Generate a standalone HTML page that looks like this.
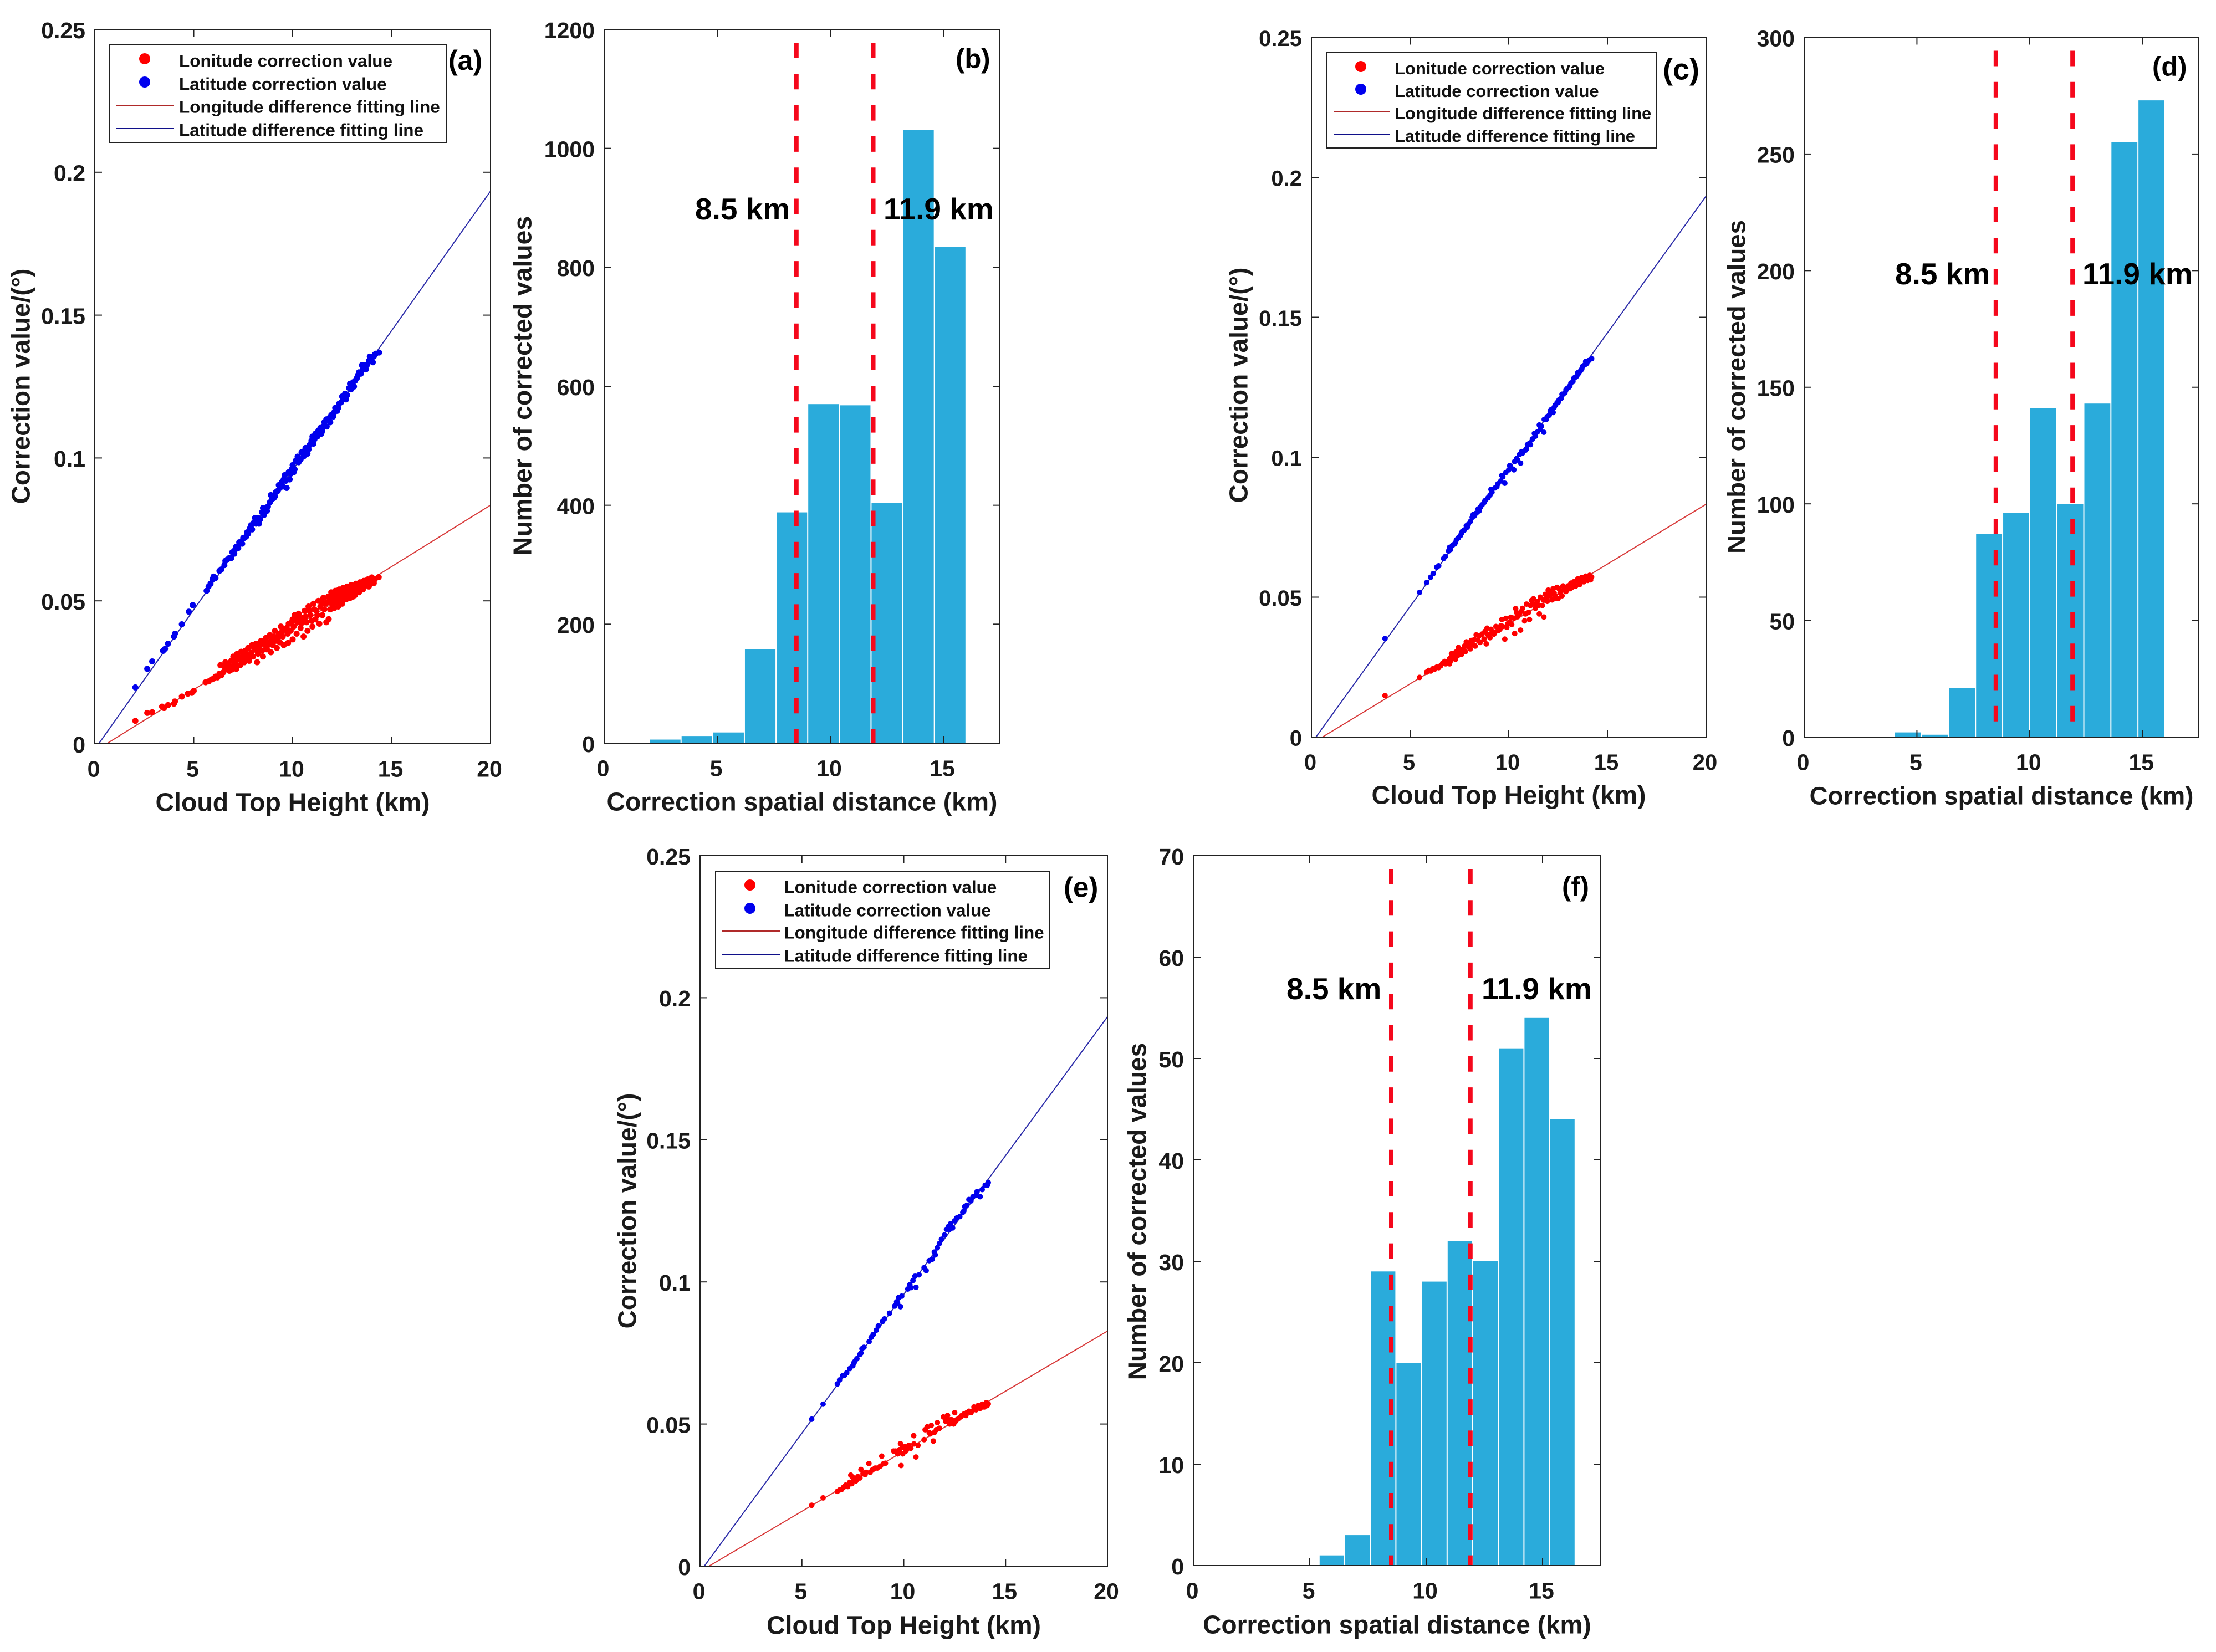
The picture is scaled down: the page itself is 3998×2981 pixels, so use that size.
<!DOCTYPE html>
<html lang="en">
<head>
<meta charset="utf-8">
<title>Cloud top height correction charts</title>
<style>
html,body{margin:0;padding:0;background:#fff;}
svg{display:block;font-family:"Liberation Sans",Arial,sans-serif;font-weight:bold;}
</style>
</head>
<body>
<svg id="figure" xmlns="http://www.w3.org/2000/svg" width="3998" height="2981" viewBox="0 0 3998 2981"></svg>
<script>
/* ---------- axis tick labels ---------- */
const scatterXTicks = [0, 5, 10, 15, 20];
const scatterYTicks = [0, 0.05, 0.1, 0.15, 0.2, 0.25];
const histXTicks = [0, 5, 10, 15];
const histBYTicks = [0, 200, 400, 600, 800, 1000, 1200];
const histDYTicks = [0, 50, 100, 150, 200, 250, 300];
const histFYTicks = [0, 10, 20, 30, 40, 50, 60, 70];
const thresholds = [8.5, 11.9];
const legendLabels = ["Lonitude correction value", "Latitude correction value", "Longitude difference fitting line", "Latitude difference fitting line"];

/* ---------- histogram data ---------- */
const bEdges = [2, 3.4, 4.8, 6.2, 7.6, 9, 10.4, 11.8, 13.2, 14.6, 16];
const bCounts = [6, 12, 18, 158, 388, 570, 568, 404, 1031, 834];
const dEdges = [4, 5.2, 6.4, 7.6, 8.8, 10, 11.2, 12.4, 13.6, 14.8, 16];
const dCounts = [2, 1, 21, 87, 96, 141, 100, 143, 255, 273];
const fEdges = [5.4, 6.5, 7.6, 8.7, 9.8, 10.9, 12, 13.1, 14.2, 15.3, 16.4];
const fCounts = [1, 3, 29, 20, 28, 32, 30, 51, 54, 44];

/* ---------- fitting lines [x, value] ---------- */
const aLonFit = [[0.6, 0], [20, 0.0835]];
const aLatFit = [[0.2, 0], [20, 0.1934]];
const cLonFit = [[0.56, 0], [20, 0.0832]];
const cLatFit = [[0.23, 0], [20, 0.1933]];
const eLonFit = [[0.44, 0], [20, 0.0827]];
const eLatFit = [[0.21, 0], [20, 0.1933]];

/* ---------- scatter (a) ---------- */
const aLon = [[2.05,.0080],[2.65,.0108],[2.9,.0110],[3.4,.0130],[3.5,.0125],[3.7,.0135],[4.0,.0140],[4.05,.0148],[4.4,.0165],[4.7,.0175],[4.9,.0178],[5.0,.0185],[5.6,.0215],[5.75,.0218],[5.9,.0225],
[6.0,.0228],[6.1,.0235],[6.2,.0232],[6.3,.0245],[6.35,.0275],[6.5,.0250],[6.6,.0285],[6.7,.0262],[6.8,.0255],[6.9,.0290],[7.0,.0270],[7.0,.0305],[7.1,.0282],[7.15,.0262],[7.2,.0315],[7.3,.0295],[7.35,.0275],[7.4,.0322],[7.5,.0305],[7.55,.0285],[7.6,.0325],[7.7,.0300],[7.75,.0335],[7.8,.0290],[7.9,.0318],[7.95,.0345],[8.0,.0305],[8.1,.0330],[8.15,.0350],[8.2,.0285],[8.25,.0315],[8.3,.0340],[8.4,.0360],[8.45,.0325],[8.5,.0305],[8.6,.0345],[8.65,.0370],[8.7,.0330],[8.8,.0355],[8.85,.0380],[8.9,.0320],[9.0,.0345],[9.05,.0375],[9.1,.0395],[9.15,.0360],[9.2,.0335],[9.3,.0385],[9.35,.0355],[9.4,.0410],[9.5,.0375],[9.55,.0345],[9.6,.0400],[9.75,.0385],[9.77,.0353],[9.8,.0420],[9.9,.0395],[10,.0365],[10,.0435],[10.05,.0410],[10.1,.0450],[10.2,.0385],[10.25,.0425],[10.3,.0455],[10.4,.0405],[10.5,.0440],[10.55,.0375],[10.6,.0465],[10.7,.0425],[10.75,.0395],[10.8,.0480],[10.9,.0450],[11.0,.0410],[11.05,.0490],[11.15,.0435],[11.2,.0465],[11.3,.0500],[11.35,.0420],[11.4,.0480],[11.5,.0450],[11.55,.0510],[11.6,.0470],[11.7,.0425],[11.75,.0495],[11.8,.0515],[11.82,.0436],
[11.9,.0470],[11.95,.0530],[12.0,.0490],[12.05,.0510],[12.1,.0475],[12.15,.0535],[12.2,.0495],[12.25,.0515],[12.3,.0480],[12.35,.0540],[12.4,.0500],[12.45,.0525],[12.5,.0490],[12.55,.0545],[12.6,.0510],[12.65,.0530],[12.7,.0505],[12.75,.0550],[12.8,.0520],[12.85,.0535],[12.9,.0510],[12.95,.0555],[13.0,.0530],[13.1,.0545],[13.15,.0520],[13.2,.0560],[13.3,.0540],[13.35,.0530],[13.4,.0565],[13.5,.0550],[13.55,.0540],[13.6,.0570],[13.7,.0555],[13.8,.0575],[13.85,.0550],[13.95,.0575],[14.05,.0570],[14.15,.0575],[14.35,.0583],
[8.55,.0358],[8.95,.0362],[9.25,.0368],[9.45,.0390],[9.7,.0405],[9.95,.0425],[10.15,.0432],[10.35,.0440],[10.45,.0422],[10.65,.0445],[10.85,.0465],[10.95,.0430],[11.1,.0470],[11.25,.0450],[11.45,.0495],[11.65,.0490],[11.85,.0500],[11.92,.0505],[12.0,.0520],[12.02,.0475],[12.12,.0500],[12.2,.0525],[12.28,.0505],[12.32,.0490],[12.42,.0535],[12.48,.0510],[12.52,.0500],[12.6,.0535],[12.68,.0515],[12.72,.0540],[12.78,.0510],[12.88,.0545],[12.92,.0525],[13.02,.0548],[13.05,.0515],[13.12,.0532],[13.22,.0530],[13.28,.0552],[13.4,.0545],[13.48,.0562],[13.62,.0552],[13.72,.0568],[13.9,.0560],[14.0,.0582],[14.1,.0562],[7.05,.0292],[7.25,.0305],[7.45,.0290],[7.65,.0312],[7.85,.0305],[8.05,.0335],[8.2,.0325],[8.35,.0350],[8.75,.0345],[6.4,.0240],[6.55,.0270],[6.75,.0278],[6.95,.0260]];
const aLat = [[2.05,.0197],[2.65,.0262],[2.9,.0288],[3.45,.0325],[3.55,.0332],[3.7,.0350],[4.0,.0375],[4.05,.0385],[4.4,.0418],[4.75,.0462],[4.95,.0485],[5.65,.0535],[5.75,.0550],[5.85,.0560],[5.95,.0575],[6.0,.0585],[6.1,.0580],[6.3,.0605],[6.4,.0610],[6.55,.0625],[6.7,.0645],[6.8,.0650],[6.95,.0670],[7.05,.0665],[7.15,.0690],[7.25,.0685],[7.35,.0705],[7.45,.0700],[7.55,.0720],[7.65,.0725],[7.75,.0735],[7.85,.0755],[7.95,.0750],[8.05,.0775],[8.15,.0770],[8.25,.0790],[8.35,.0785],[8.45,.0810],[8.55,.0800],[8.65,.0825],[8.75,.0830],[8.85,.0845],[8.95,.0855],[9.05,.0860],[9.15,.0880],[9.25,.0885],[9.35,.0895],[9.45,.0915],[9.55,.0925],[9.65,.0920],[9.7,.0895],[9.8,.0950],[9.9,.0945],[10.0,.0975],[10.05,.0950],[10.15,.0990],[10.3,.0985],[10.45,.1020],[10.55,.1005],[10.65,.1035],[10.75,.1015],[10.85,.1045],[10.95,.1060],[11.05,.1050],[11.15,.1085],[11.25,.1075],[11.4,.1105],[11.5,.1095],[11.6,.1125],[11.72,.1110],[11.85,.1140],[11.95,.1150],[12.05,.1145],[12.15,.1175],[12.25,.1165],[12.35,.1190],[12.45,.1195],[12.55,.1205],[12.65,.1225],[12.75,.1220],[12.85,.1245],[12.95,.1240],[13.05,.1265],[13.15,.1270],[13.25,.1280],[13.35,.1300],[13.45,.1295],[13.55,.1310],[13.65,.1325],[13.75,.1325],[13.85,.1340],[13.95,.1345],[14.1,.1355],[14.15,.1362],[14.37,.1369],
[6.6,.0640],[6.9,.0650],[7.1,.0680],[7.3,.0705],[7.5,.0720],[7.7,.0740],[7.9,.0765],[8.1,.0790],[8.3,.0770],[8.5,.0825],[8.7,.0815],[8.9,.0870],[9.1,.0865],[9.3,.0905],[9.5,.0900],[9.6,.0940],[9.85,.0925],[9.95,.0960],[10.1,.0960],[10.25,.1005],[10.4,.0995],[10.6,.1025],[10.8,.1030],[11.0,.1075],[11.1,.1065],[11.3,.1095],[11.45,.1085],[11.55,.1110],[11.7,.1135],[11.9,.1125],[12.1,.1160],[12.3,.1175],[12.5,.1215],[12.7,.1205],[12.9,.1260],[13.1,.1250],[13.3,.1290],[13.5,.1325],[13.7,.1310],[13.9,.1355],[14.05,.1335],[14.2,.1365]];

/* ---------- scatter (c) ---------- */
const cLon = [[3.73,.0148],[5.48,.0213],[5.84,.0232],[5.95,.0238],[6.05,.0236],[6.15,.0244],[6.25,.0243],[6.35,.0250],[6.45,.0248],[6.65,.0264],[6.8,.0262],[6.9,.0268],[7.0,.0280],[7.05,.0272],[7.1,.0298],[7.2,.0285],[7.3,.0278],[7.35,.0305],[7.4,.0290],[7.45,.0320],[7.55,.0300],[7.6,.0295],[7.7,.0312],[7.8,.0305],[7.85,.0340],[7.95,.0322],[8.05,.0315],[8.1,.0345],[8.2,.0330],[8.3,.0325],[8.35,.0365],[8.45,.0345],[8.55,.0338],[8.65,.0368],[8.75,.0350],[8.86,.0333],[8.9,.0389],[8.95,.0365],[9.05,.0355],[9.15,.0372],[9.25,.0368],[9.35,.0395],[9.45,.0380],[9.55,.0385],[9.65,.0420],[9.7,.0395],[9.8,.0350],[9.85,.0424],[9.95,.0405],[10.05,.0410],[10.15,.0402],[10.25,.0425],[10.3,.0370],[10.35,.0459],[10.45,.0430],[10.55,.0440],[10.6,.0382],[10.7,.0460],[10.8,.0415],[10.9,.0475],[11.0,.0445],[11.05,.0420],[11.15,.0488],[11.25,.0494],[11.35,.0460],[11.45,.0485],[11.55,.0440],[11.6,.0500],[11.7,.0470],[11.78,.0429],[11.85,.0510],[11.95,.0485],[12.05,.0505],[12.1,.0520],[12.2,.0490],[12.25,.0530],[12.35,.0505],[12.45,.0535],[12.5,.0495],[12.6,.0515],[12.7,.0505],[12.8,.0525],[12.9,.0520],[13.0,.0540],[13.1,.0530],[13.2,.0535],[13.3,.0555],[13.4,.0540],[13.5,.0565],[13.6,.0545],[13.7,.0570],[13.8,.0555],[13.9,.0575],[14.0,.0560],[14.1,.0578],[14.2,.0572],
[6.55,.0255],[6.75,.0270],[7.0,.0262],[7.25,.0300],[7.5,.0315],[7.75,.0325],[8.0,.0332],[8.25,.0348],[8.5,.0362],[8.8,.0378],[9.1,.0385],[9.3,.0375],[9.6,.0398],[9.9,.0392],[10.1,.0428],[10.4,.0445],[10.65,.0450],[10.85,.0440],[11.1,.0470],[11.3,.0475],[11.5,.0470],[11.75,.0490],[11.9,.0500],[12.0,.0525],[12.15,.0510],[12.3,.0515],[12.4,.0495],[12.55,.0530],[12.75,.0540],[12.95,.0530],[13.15,.0550],[13.35,.0540],[13.55,.0555],[13.75,.0560],[13.95,.0570],[14.15,.0562]];
const cLat = [[3.73,.0352],[5.48,.0517],[5.84,.0552],[6.04,.0571],[6.17,.0584],[6.35,.0607],[6.45,.0612],[6.7,.0638],[6.78,.0645],[6.95,.0665],[7.05,.0670],[7.15,.0685],[7.25,.0690],[7.35,.0705],[7.45,.0712],[7.55,.0720],[7.65,.0735],[7.75,.0740],[7.85,.0755],[7.95,.0760],[8.05,.0770],[8.15,.0785],[8.25,.0790],[8.35,.0800],[8.45,.0815],[8.55,.0820],[8.65,.0830],[8.8,.0845],[8.95,.0855],[9.05,.0865],[9.15,.0875],[9.3,.0890],[9.45,.0905],[9.6,.0915],[9.7,.0930],[9.8,.0907],[9.85,.0945],[10.0,.0955],[10.1,.0965],[10.26,.0955],[10.3,.0985],[10.45,.0990],[10.55,.1010],[10.6,.0979],[10.7,.1015],[10.85,.1025],[10.95,.1045],[11.05,.1050],[11.2,.1065],[11.3,.1085],[11.45,.1090],[11.55,.1115],[11.65,.1110],[11.78,.1089],[11.8,.1135],[11.95,.1145],[12.05,.1150],[12.15,.1170],[12.25,.1160],[12.35,.1185],[12.45,.1195],[12.55,.1205],[12.65,.1210],[12.75,.1225],[12.85,.1230],[12.95,.1245],[13.05,.1250],[13.15,.1265],[13.25,.1270],[13.35,.1285],[13.45,.1290],[13.55,.1300],[13.65,.1310],[13.75,.1325],[13.85,.1330],[13.95,.1335],[14.05,.1345],[14.2,.1352],
[7.0,.0678],[7.3,.0695],[7.6,.0728],[7.9,.0750],[8.2,.0795],[8.5,.0808],[8.75,.0838],[9.1,.0885],[9.4,.0895],[9.65,.0935],[10.05,.0970],[10.4,.0995],[10.65,.1020],[10.9,.1030],[11.1,.1045],[11.35,.1075],[11.6,.1100],[11.9,.1135],[12.1,.1165],[12.3,.1178],[12.5,.1195],[12.7,.1225],[12.9,.1240],[13.1,.1255],[13.3,.1282],[13.5,.1302],[13.7,.1315],[13.9,.1342]];

/* ---------- scatter (e) ---------- */
const eLon = [[5.48,.0214],[6.04,.0240],[6.74,.0263],[6.85,.0268],[6.95,.0270],[7.05,.0278],[7.15,.0285],[7.25,.0280],[7.35,.0295],[7.4,.0320],[7.45,.0290],[7.55,.0305],[7.65,.0300],[7.75,.0315],[7.85,.0310],[7.9,.0340],[8.0,.0325],[8.15,.0330],[8.29,.0361],[8.35,.0330],[8.45,.0338],[8.55,.0342],[8.7,.0345],[8.85,.0352],[8.92,.0387],[9.0,.0360],[9.1,.0362],[9.5,.0405],[9.6,.0405],[9.7,.0395],[9.8,.0410],[9.84,.0431],[9.87,.0354],[9.95,.0395],[10.05,.0420],[10.15,.0410],[10.25,.0425],[10.35,.0415],[10.49,.0459],[10.5,.0430],[10.6,.0384],[10.7,.0425],[11.0,.0445],[11.05,.0480],[11.15,.0490],[11.25,.0470],[11.35,.0495],[11.45,.0440],[11.5,.0470],[11.65,.0505],[11.75,.0485],[11.95,.0525],[12.05,.0510],[12.15,.0530],[12.25,.0500],[12.35,.0515],[12.45,.0500],[12.5,.0540],[12.6,.0515],[12.7,.0520],[12.85,.0530],[12.95,.0535],[13.05,.0530],[13.2,.0545],[13.3,.0540],[13.45,.0560],[13.55,.0550],[13.65,.0565],[13.75,.0555],[13.85,.0570],[13.95,.0560],[14.05,.0575],[14.15,.0571],
[7.5,.0312],[7.7,.0305],[8.1,.0322],[8.6,.0345],[9.75,.0402],[9.95,.0418],[10.1,.0405],[11.3,.0465],[11.6,.0480],[12.1,.0520],[12.3,.0515],[12.55,.0510],[12.8,.0525],[13.1,.0540],[13.35,.0545],[13.6,.0555],[13.8,.0562],[14.1,.0565]];
const eLat = [[5.48,.0517],[6.04,.0570],[6.74,.0641],[6.85,.0655],[7.0,.0670],[7.2,.0680],[7.35,.0695],[7.5,.0705],[7.6,.0720],[7.7,.0730],[7.85,.0745],[7.95,.0765],[8.05,.0770],[8.3,.0790],[8.4,.0805],[8.5,.0815],[8.65,.0830],[8.75,.0845],[8.95,.0860],[9.05,.0870],[9.3,.0890],[9.55,.0915],[9.65,.0930],[9.75,.0945],[9.84,.0913],[9.9,.0950],[10.2,.0975],[10.35,.0980],[10.45,.1005],[10.55,.1020],[10.6,.0981],[10.75,.1025],[11.0,.1050],[11.1,.1040],[11.25,.1075],[11.4,.1080],[11.5,.1105],[11.65,.1120],[11.75,.1135],[11.85,.1150],[12.0,.1165],[12.1,.1185],[12.2,.1195],[12.3,.1205],[12.4,.1190],[12.5,.1215],[12.6,.1225],[12.75,.1230],[12.9,.1245],[13.0,.1265],[13.1,.1270],[13.2,.1290],[13.3,.1285],[13.4,.1300],[13.55,.1305],[13.75,.1300],[13.85,.1325],[14.0,.1340],[14.15,.1350],
[7.1,.0672],[7.55,.0715],[7.9,.0750],[9.7,.0925],[10.3,.0990],[11.55,.1095],[12.25,.1185],[12.95,.1250],[13.6,.1318],[14.1,.1340]];

/* ---------- drawing helpers ---------- */
const SVGNS = "http://www.w3.org/2000/svg";
const figure = document.getElementById("figure");
function node(parent, tag, attrs, text) {
  const el = document.createElementNS(SVGNS, tag);
  for (const k in attrs) el.setAttribute(k, attrs[k]);
  if (text !== undefined) el.textContent = text;
  parent.appendChild(el);
  return el;
}
function makeAxes(box, xMax, yMax) {
  return {
    x: v => box.l + (v / xMax) * (box.r - box.l),
    y: v => box.b - (v / yMax) * (box.b - box.t)
  };
}
function drawFrameAndTicks(g, box, ax, xTicks, yTicks, tickSize, xMax) {
  const frame = node(g, "rect", {x: box.l, y: box.t, width: box.r - box.l, height: box.b - box.t, fill: "none", stroke: "#222", "stroke-width": 2});
  
  
  xTicks.forEach(v => {
    const px = ax.x(v);
    if (v !== 0 && v !== xMax) {
      const bottomTick = node(g, "line", {x1: px, x2: px, y1: box.b, y2: box.b - 13, stroke: "#222", "stroke-width": 2});
      
      
      const topTick = node(g, "line", {x1: px, x2: px, y1: box.t, y2: box.t + 13, stroke: "#222", "stroke-width": 2});
      
      
    }
    const label = node(g, "text", {x: px - 2, y: box.b + 44.5, dy: "0.36em", "text-anchor": "middle", "font-size": tickSize, fill: "#1a1a1a"}, String(v));
    
    
  });
  yTicks.forEach((v, i) => {
    const py = ax.y(v);
    if (i !== 0 && i !== yTicks.length - 1) {
      const leftTick = node(g, "line", {x1: box.l, x2: box.l + 13, y1: py, y2: py, stroke: "#222", "stroke-width": 2});
      
      
      const rightTick = node(g, "line", {x1: box.r, x2: box.r - 13, y1: py, y2: py, stroke: "#222", "stroke-width": 2});
      
      
    }
    const label = node(g, "text", {x: box.l - 17, y: py + 1, dy: "0.36em", "text-anchor": "end", "font-size": tickSize, fill: "#1a1a1a"}, String(v));
    
    
  });
}
function drawTitles(g, box, cfg) {
  const xTitle = node(g, "text", {x: (box.l + box.r) / 2, y: box.b + cfg.xTitleDy, dy: "0.36em", "text-anchor": "middle", "font-size": cfg.xTitleSize, fill: "#1a1a1a"}, cfg.xTitle);
  
  
  const yTitle = node(g, "text", {x: cfg.yTitleX, y: cfg.yTitleY, dy: "0.36em", "text-anchor": "middle", "font-size": cfg.yTitleSize, fill: "#1a1a1a", transform: "rotate(-90 " + cfg.yTitleX + " " + cfg.yTitleY + ")"}, cfg.yTitle);
  
  
  const tag = node(g, "text", {x: cfg.tagX, y: cfg.tagY, dy: "0.36em", "font-size": cfg.tagSize, fill: "#000"}, cfg.tag);
  
  
}
function drawFit(g, ax, pts, color, name) {
  const line = node(g, "line", {x1: ax.x(pts[0][0]), y1: ax.y(pts[0][1]), x2: ax.x(pts[1][0]), y2: ax.y(pts[1][1]), stroke: color, "stroke-width": 2});
  
  
}
function drawPoints(g, ax, pts, color, r, name) {
  pts.forEach(p => {
    const dot = node(g, "circle", {cx: ax.x(p[0]), cy: ax.y(p[1]), r: r, fill: color});
    
    
  });
}
function drawLegend(g, lg) {
  const legend = node(g, "g", {});
  
  
  const box = node(legend, "rect", {x: lg.l, y: lg.t, width: lg.r - lg.l, height: lg.b - lg.t, fill: "#fff", stroke: "#222", "stroke-width": 2});
  
  
  const colors = ["#ff0000", "#0000ee", "#b02a2a", "#10108a"];
  legendLabels.forEach((text, i) => {
    const label = node(legend, "text", {x: lg.textX, y: lg.rows[i] - 1, dy: "0.36em", "font-size": lg.size, fill: "#111"}, text);
    
    
    if (i < 2) {
      const key = node(legend, "circle", {cx: lg.markX, cy: lg.rows[i] - 4, r: 10, fill: colors[i]});
      
      
    } else {
      const key = node(legend, "line", {x1: lg.lineL, x2: lg.lineR, y1: lg.rows[i] - 3, y2: lg.rows[i] - 3, stroke: colors[i], "stroke-width": 2});
      
      
    }
  });
}
function drawScatter(cfg) {
  const g = node(figure, "g", {});
  
  
  const ax = makeAxes(cfg.box, 20, 0.25);
  drawFit(g, ax, cfg.lonFit, "#d83a3a", "longitude-fit-line");
  drawFit(g, ax, cfg.latFit, "#2a2aa8", "latitude-fit-line");
  drawPoints(g, ax, cfg.lon, "#ff0000", cfg.r, "longitude-point");
  drawPoints(g, ax, cfg.lat, "#0000ee", cfg.r, "latitude-point");
  drawFrameAndTicks(g, cfg.box, ax, scatterXTicks, scatterYTicks, cfg.tickSize, 20);
  drawLegend(g, cfg.legend);
  drawTitles(g, cfg.box, cfg);
}
function drawHist(cfg) {
  const g = node(figure, "g", {});
  
  
  const yMax = cfg.yTicks[cfg.yTicks.length - 1];
  const ax = makeAxes(cfg.box, 17.5, yMax);
  cfg.counts.forEach((c, i) => {
    const x0 = ax.x(cfg.edges[i]);
    const x1 = ax.x(cfg.edges[i + 1]);
    const bar = node(g, "rect", {x: x0 + 1, y: ax.y(c), width: x1 - x0 - 2, height: cfg.box.b - ax.y(c), fill: "#2aabdb"});
    
    
  });
  thresholds.forEach(t => {
    const topValue = yMax * (1 - 24 / (cfg.box.b - cfg.box.t));
    const dash = node(g, "line", {x1: ax.x(t), x2: ax.x(t), y1: ax.y(topValue), y2: ax.y(0), stroke: "#f5081c", "stroke-width": 8, "stroke-dasharray": "28 28.3"});
    
    
  });
  drawFrameAndTicks(g, cfg.box, ax, histXTicks, cfg.yTicks, cfg.tickSize, 17.5);
  cfg.notes.forEach(n => {
    const note = node(g, "text", {x: n.x, y: n.y, dy: "0.36em", "font-size": 55, fill: "#000"}, n.text);
    
    
  });
  drawTitles(g, cfg.box, cfg);
}

/* ---------- panels ---------- */
const cloudTitle = "Cloud Top Height (km)";
const corrTitle = "Correction value/(°)";
const distTitle = "Correction spatial distance (km)";
const countTitle = "Number of corrected values";

drawScatter({name: "panel-a-scatter", tag: "(a)", box: {l: 171, r: 885, t: 53, b: 1342}, r: 5.5, tickSize: 41,
  lon: aLon, lat: aLat, lonFit: aLonFit, latFit: aLatFit,
  xTitle: cloudTitle, xTitleDy: 105, xTitleSize: 46.5, yTitle: corrTitle, yTitleX: 37, yTitleY: 697, yTitleSize: 46,
  tagX: 809, tagY: 108, tagSize: 50,
  legend: {l: 198, r: 805, t: 80, b: 257, textX: 323, size: 31.5, rows: [110, 152, 193, 235], markX: 261, lineL: 210, lineR: 314}});
drawHist({name: "panel-b-histogram", tag: "(b)", box: {l: 1090, r: 1804, t: 53, b: 1341}, tickSize: 41,
  edges: bEdges, counts: bCounts, yTicks: histBYTicks,
  notes: [{x: 1254, y: 376, text: "8.5 km"}, {x: 1594, y: 376, text: "11.9 km"}],
  xTitle: distTitle, xTitleDy: 105, xTitleSize: 46.3, yTitle: countTitle, yTitleX: 942, yTitleY: 696, yTitleSize: 46.3,
  tagX: 1724, tagY: 105, tagSize: 49});
drawScatter({name: "panel-c-scatter", tag: "(c)", box: {l: 2366, r: 3078, t: 67.5, b: 1330}, r: 5, tickSize: 40,
  lon: cLon, lat: cLat, lonFit: cLonFit, latFit: cLatFit,
  xTitle: cloudTitle, xTitleDy: 104, xTitleSize: 46.5, yTitle: corrTitle, yTitleX: 2234, yTitleY: 695, yTitleSize: 46,
  tagX: 3000, tagY: 124, tagSize: 54,
  legend: {l: 2394, r: 2989, t: 95, b: 267, textX: 2516, size: 31, rows: [124, 165, 205, 246], markX: 2455, lineL: 2406, lineR: 2507}});
drawHist({name: "panel-d-histogram", tag: "(d)", box: {l: 3255, r: 3967, t: 67.5, b: 1330}, tickSize: 41,
  edges: dEdges, counts: dCounts, yTicks: histDYTicks,
  notes: [{x: 3419, y: 493, text: "8.5 km"}, {x: 3757, y: 493, text: "11.9 km"}],
  xTitle: distTitle, xTitleDy: 105, xTitleSize: 45.5, yTitle: countTitle, yTitleX: 3132, yTitleY: 698, yTitleSize: 45.5,
  tagX: 3883, tagY: 119, tagSize: 49});
drawScatter({name: "panel-e-scatter", tag: "(e)", box: {l: 1263, r: 1998, t: 1544, b: 2826}, r: 5, tickSize: 41,
  lon: eLon, lat: eLat, lonFit: eLonFit, latFit: eLatFit,
  xTitle: cloudTitle, xTitleDy: 106, xTitleSize: 46.5, yTitle: corrTitle, yTitleX: 1131, yTitleY: 2185, yTitleSize: 46,
  tagX: 1919, tagY: 1600, tagSize: 51,
  legend: {l: 1291, r: 1894, t: 1572, b: 1747, textX: 1414.5, size: 31.4, rows: [1601, 1643, 1683, 1725], markX: 1353, lineL: 1302, lineR: 1407}});
drawHist({name: "panel-f-histogram", tag: "(f)", box: {l: 2153, r: 2888, t: 1544, b: 2825}, tickSize: 41,
  edges: fEdges, counts: fCounts, yTicks: histFYTicks,
  notes: [{x: 2321, y: 1783, text: "8.5 km"}, {x: 2673, y: 1783, text: "11.9 km"}],
  xTitle: distTitle, xTitleDy: 106, xTitleSize: 46, yTitle: countTitle, yTitleX: 2051, yTitleY: 2186, yTitleSize: 46,
  tagX: 2818, tagY: 1599, tagSize: 49});
</script>
</body>
</html>
